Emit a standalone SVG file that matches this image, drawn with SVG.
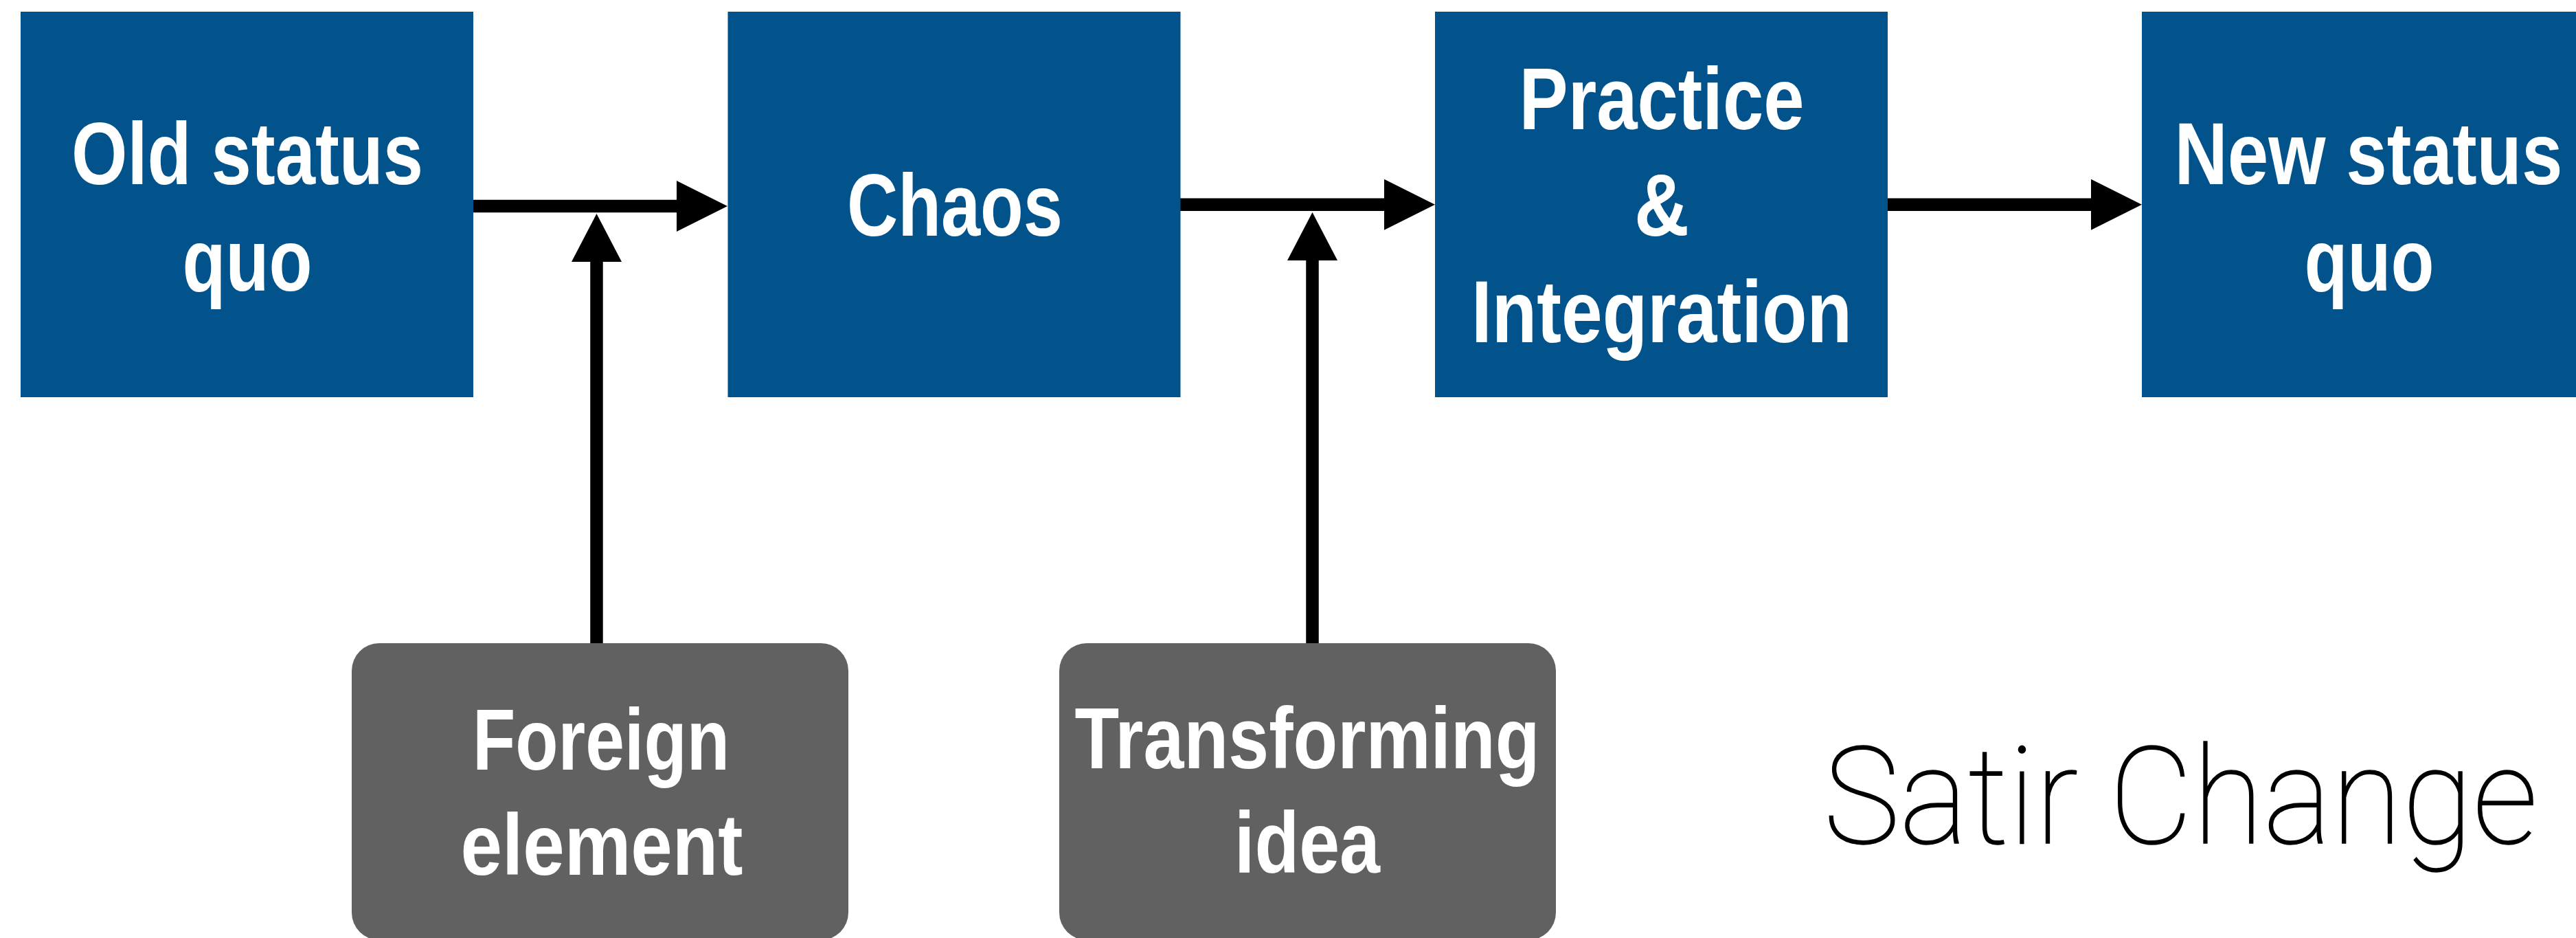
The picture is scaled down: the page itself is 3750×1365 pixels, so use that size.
<svg xmlns="http://www.w3.org/2000/svg" width="3750" height="1365" viewBox="0 0 3750 1365">
  <style>
    .stage { fill: #02538c; }
    .input { fill: #616161; }
    .lbl { fill: #ffffff; font-family: "Liberation Sans", Arial, sans-serif; font-weight: bold; text-anchor: middle; }
    .big { font-size: 128px; }
    .mid { font-size: 126px; }
    .wire { stroke: #000000; stroke-width: 18.5; fill: none; }
    .title { fill: #000000; stroke: #000000; stroke-width: 1.4; font-family: Roboto, Inter, "Liberation Sans", sans-serif; font-weight: 100; font-size: 197px; text-anchor: middle; }
  </style>
  <defs>
    <marker id="headH" markerUnits="userSpaceOnUse" markerWidth="74" markerHeight="74" refX="1" refY="37" orient="auto" overflow="visible">
      <path d="M0,0 L74,37 L0,74 Z" fill="#000000"/>
    </marker>
    <marker id="headV" markerUnits="userSpaceOnUse" markerWidth="70" markerHeight="73" refX="1" refY="36.5" orient="auto" overflow="visible">
      <path d="M0,0 L70,36.5 L0,73 Z" fill="#000000"/>
    </marker>
  </defs>

  <rect width="3750" height="1365" fill="#ffffff"/>

  <g id="connectors">
    <path class="wire" d="M689,300 H986" marker-end="url(#headH)"/>
    <path class="wire" d="M1718,297.7 H2016" marker-end="url(#headH)"/>
    <path class="wire" d="M2748,297.7 H3045" marker-end="url(#headH)"/>
    <path class="wire" d="M868.5,937 V380" marker-end="url(#headV)"/>
    <path class="wire" d="M1910.5,937 V378" marker-end="url(#headV)"/>
  </g>

  <g id="old-status-quo">
    <rect class="stage" x="30" y="17" width="659" height="561"/>
    <text class="lbl big" x="360" y="268" textLength="512" lengthAdjust="spacingAndGlyphs">Old status</text>
    <text class="lbl big" x="360" y="423" textLength="189" lengthAdjust="spacingAndGlyphs">quo</text>
  </g>

  <g id="chaos">
    <rect class="stage" x="1059.5" y="17" width="659" height="561"/>
    <text class="lbl big" x="1390" y="343" textLength="314" lengthAdjust="spacingAndGlyphs">Chaos</text>
  </g>

  <g id="practice-integration">
    <rect class="stage" x="2089" y="17" width="659" height="561"/>
    <text class="lbl big" x="2419" y="187.5" textLength="415" lengthAdjust="spacingAndGlyphs">Practice</text>
    <text class="lbl big" x="2419" y="343" textLength="80" lengthAdjust="spacingAndGlyphs">&amp;</text>
    <text class="lbl big" x="2419" y="497.5" textLength="554" lengthAdjust="spacingAndGlyphs">Integration</text>
  </g>

  <g id="new-status-quo">
    <rect class="stage" x="3118" y="17" width="659" height="561"/>
    <text class="lbl big" x="3448" y="268" textLength="565" lengthAdjust="spacingAndGlyphs">New status</text>
    <text class="lbl big" x="3449" y="423" textLength="189" lengthAdjust="spacingAndGlyphs">quo</text>
  </g>

  <g id="foreign-element">
    <rect class="input" x="512" y="936" width="723" height="432" rx="40" ry="40"/>
    <text class="lbl mid" x="875" y="1120" textLength="374" lengthAdjust="spacingAndGlyphs">Foreign</text>
    <text class="lbl mid" x="876" y="1272.7" textLength="411" lengthAdjust="spacingAndGlyphs">element</text>
  </g>

  <g id="transforming-idea">
    <rect class="input" x="1542" y="936" width="723" height="432" rx="40" ry="40"/>
    <text class="lbl mid" x="1903" y="1117.7" textLength="677" lengthAdjust="spacingAndGlyphs">Transforming</text>
    <text class="lbl mid" x="1903" y="1269.7" textLength="212" lengthAdjust="spacingAndGlyphs">idea</text>
  </g>

  <text class="title" x="3174.5" y="1227" textLength="1040" lengthAdjust="spacingAndGlyphs">Satir Change</text>
</svg>
